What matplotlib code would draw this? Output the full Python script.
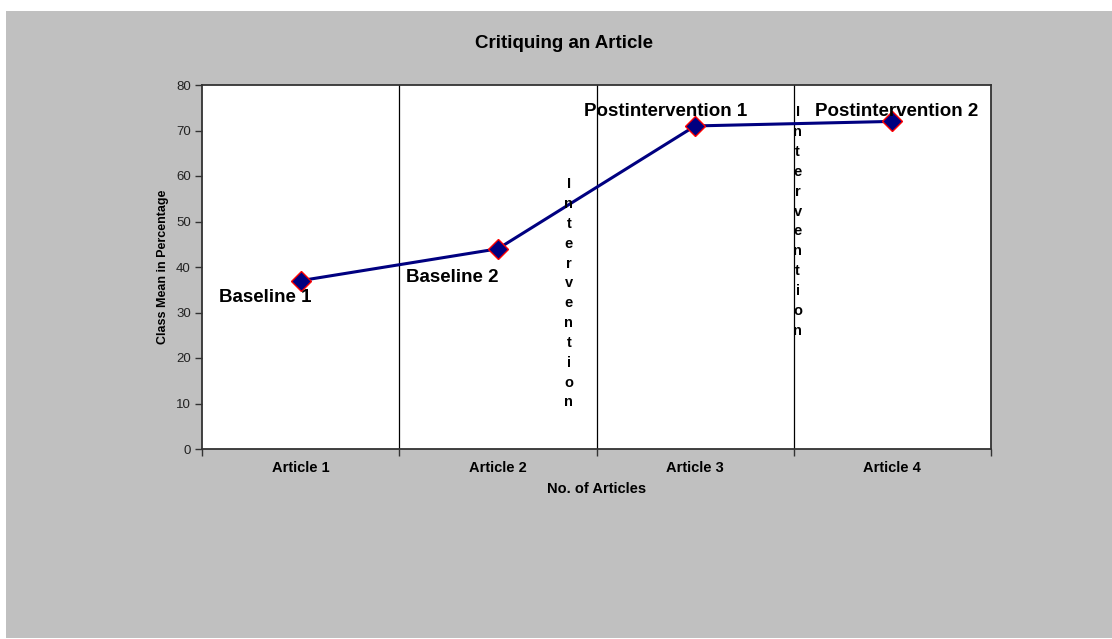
import matplotlib
matplotlib.use("Agg")
import matplotlib.pyplot as plt
from matplotlib.patches import Rectangle

plt.rcParams["font.family"] = ["Liberation Sans", "DejaVu Sans"]

# Data
articles = ["Article 1", "Article 2", "Article 3", "Article 4"]
class_mean = [37, 44, 71, 72]
phase_labels = ["Baseline 1", "Baseline 2", "Postintervention 1", "Postintervention 2"]
intervention_word = "Intervention"

x = list(range(1, len(articles) + 1))

fig = plt.figure(figsize=(11.12, 6.39), dpi=100)
fig.patch.set_facecolor("white")

# grey chart area behind the plot
bg = Rectangle((6 / 1112, 1 / 639), 1 - 6 / 1112, 627 / 639,
               transform=fig.transFigure, facecolor="#c0c0c0", edgecolor="none")
bg.set_zorder(-10)
fig.add_artist(bg)

ax = fig.add_axes([202 / 1112, 1 - 449 / 639, 789 / 1112, 364 / 639])
ax.set_zorder(1)
ax.set_facecolor("white")

ax.set_xlim(0.5, len(articles) + 0.5)
ax.set_ylim(0, 80)
ax.set_yticks(range(0, 81, 10))

# category separators
for b in [i + 0.5 for i in range(1, len(articles))]:
    ax.axvline(b, color="black", lw=0.9, zorder=1)

ax.plot(x, class_mean, color="#000080", lw=2.2, zorder=3,
        marker="D", markersize=10.5, markerfacecolor="#000080",
        markeredgecolor="red", markeredgewidth=1.0)

# x ticks: labels at category centres, tick marks on boundaries
ax.set_xticks(x)
ax.set_xticklabels(articles, fontsize=10.5, fontweight="bold")
ax.tick_params(axis="x", which="major", length=0, pad=9)
ax.set_xticks([i + 0.5 for i in range(0, len(articles) + 1)], minor=True)
ax.tick_params(axis="x", which="minor", length=5, direction="out", width=1, color="#333333")
ax.tick_params(axis="y", length=5, direction="out", width=1, labelsize=9.5,
               color="#333333", labelcolor="#222222", pad=3)

for s in ax.spines.values():
    s.set_color("#333333")
    s.set_linewidth(1.3)

ax.set_xlabel("No. of Articles", fontsize=10.5, fontweight="bold", labelpad=5)
ax.set_ylabel("Class Mean in Percentage", fontsize=9, fontweight="bold", labelpad=5)

fig.text((473 + 655) / 2 / 1112, 1 - 43 / 639, "Critiquing an Article",
         ha="center", va="center", fontsize=13.5, fontweight="bold")

# phase labels
label_pos = [(0.82, 33.4), (1.77, 37.6), (2.85, 74.1), (4.02, 74.1)]
for (lx, ly), txt in zip(label_pos, phase_labels):
    ax.text(lx, ly, txt, ha="center", va="center", fontsize=13.5,
            fontweight="bold", zorder=4)

# stacked "Intervention" markers between phases
stacked = "\n".join(intervention_word)
for ix, iy in [(2.36, 34.2), (3.52, 50.0)]:
    ax.text(ix, iy, stacked, ha="center", va="center", fontsize=10.5,
            fontweight="bold", linespacing=1.53, multialignment="center", zorder=4)

fig.savefig("out.png", dpi=100, facecolor=fig.get_facecolor())
